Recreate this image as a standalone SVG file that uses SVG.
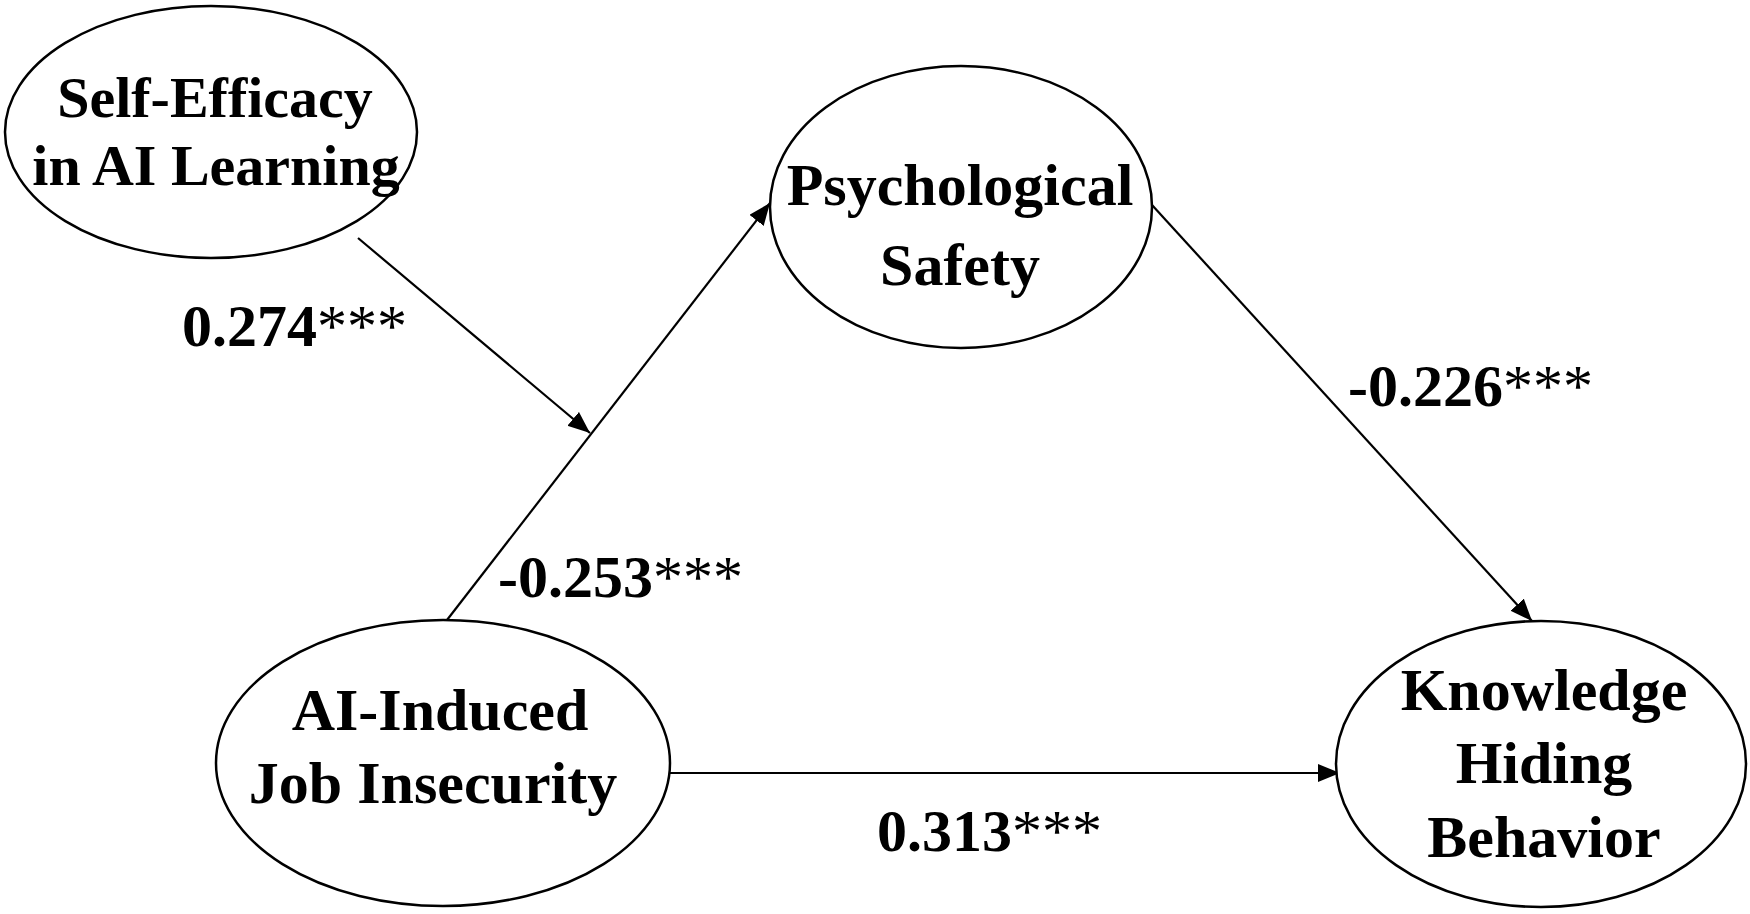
<svg xmlns="http://www.w3.org/2000/svg" width="1750" height="914" viewBox="0 0 1750 914">
<style>
.node ellipse{fill:#fff;stroke:#000;stroke-width:2.5}
.lbl{font-family:"Liberation Serif","Times New Roman",serif;font-weight:bold;font-size:60px;fill:#000;text-anchor:middle}
.coef{font-family:"Liberation Serif","Times New Roman",serif;font-weight:bold;font-size:60px;fill:#000}
.star{font-weight:normal}
.conn line{stroke:#000;stroke-width:2.2;fill:none}
</style>
<defs>
<marker id="arr" markerUnits="userSpaceOnUse" markerWidth="24" markerHeight="20" refX="22" refY="9" orient="auto">
<path d="M0,0 L22,9 L0,18 Z" fill="#000"/>
</marker>
</defs>
<rect width="1750" height="914" fill="#fff"/>
<g id="connectors" class="conn">
<line x1="358" y1="238" x2="590" y2="433" marker-end="url(#arr)"/>
<line x1="447" y1="620" x2="770" y2="203" marker-end="url(#arr)"/>
<line x1="1152" y1="205" x2="1532" y2="621" marker-end="url(#arr)"/>
<line x1="670" y1="773" x2="1340" y2="773" marker-end="url(#arr)"/>
</g>
<g id="self-efficacy" class="node">
<ellipse cx="211" cy="132" rx="206" ry="126"/>
<text class="lbl" x="215" y="117" font-size="58" style="font-size:58px">Self-Efficacy</text>
<text class="lbl" x="216" y="185" style="font-size:58px">in AI Learning</text>
</g>
<g id="psychological-safety" class="node">
<ellipse cx="961" cy="207" rx="191" ry="141"/>
<text class="lbl" x="960" y="205">Psychological</text>
<text class="lbl" x="960" y="285">Safety</text>
</g>
<g id="ai-job-insecurity" class="node">
<ellipse cx="443" cy="763" rx="227" ry="143"/>
<text class="lbl" x="440" y="730">AI-Induced</text>
<text class="lbl" x="433" y="803">Job Insecurity</text>
</g>
<g id="knowledge-hiding" class="node">
<ellipse cx="1541" cy="764" rx="205" ry="143"/>
<text class="lbl" x="1544" y="710">Knowledge</text>
<text class="lbl" x="1544" y="783">Hiding</text>
<text class="lbl" x="1544" y="857">Behavior</text>
</g>
<g id="coefficients">
<text class="coef" x="182" y="346">0.274<tspan class="star">***</tspan></text>
<text class="coef" x="498" y="597">-0.253<tspan class="star">***</tspan></text>
<text class="coef" x="1348" y="406">-0.226<tspan class="star">***</tspan></text>
<text class="coef" x="877" y="851">0.313<tspan class="star">***</tspan></text>
</g>
</svg>
